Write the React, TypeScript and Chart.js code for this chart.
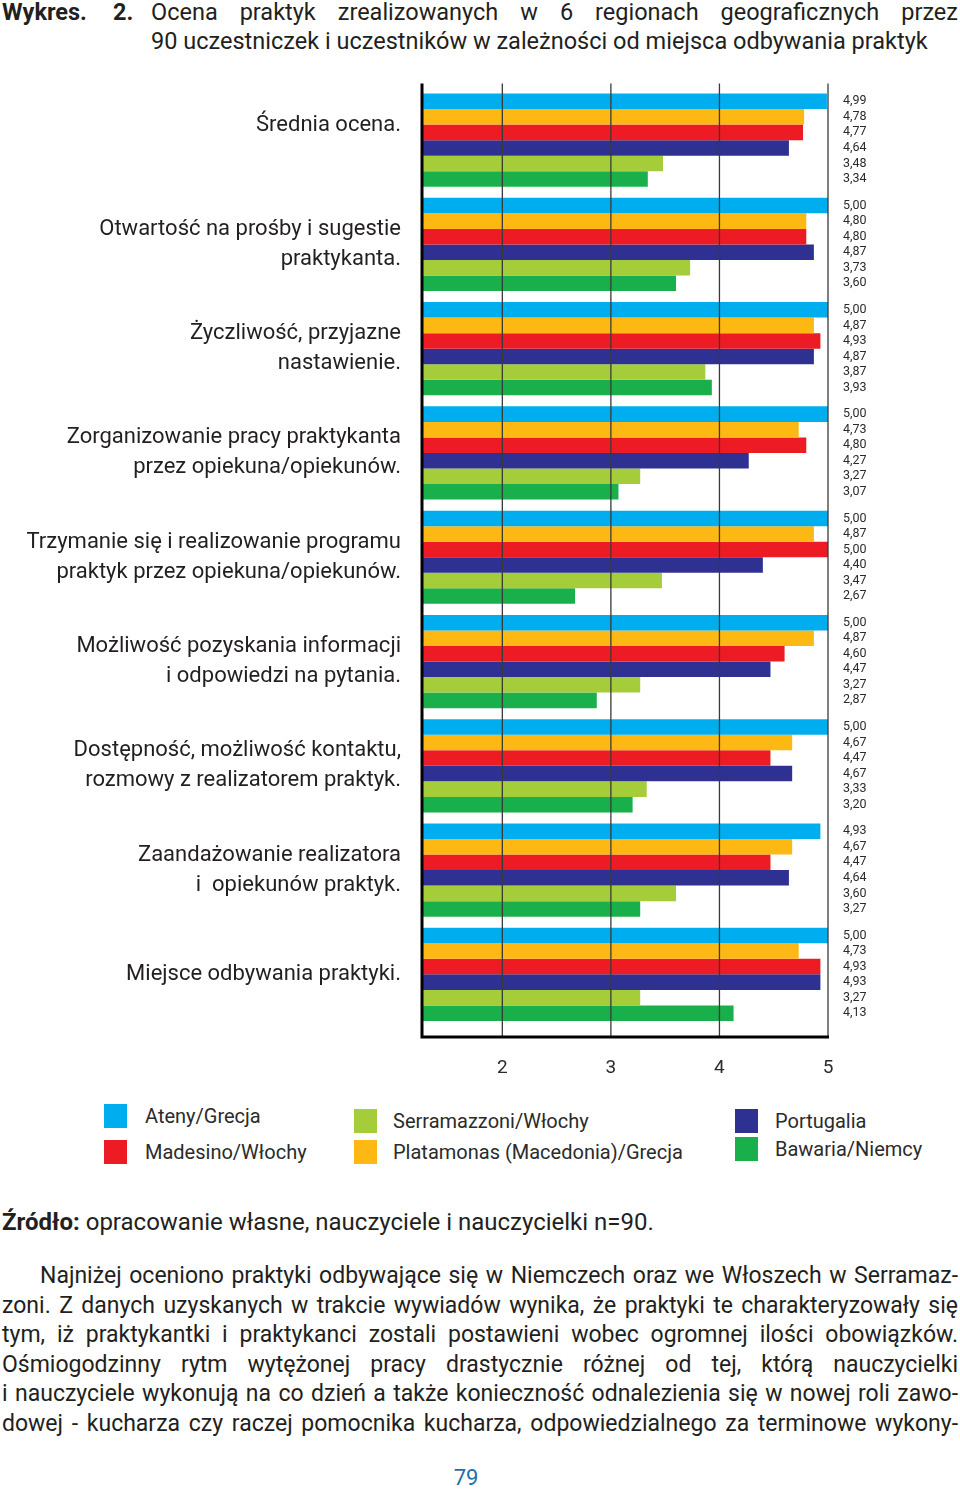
import React, { useEffect, useRef } from "react";
import { Chart, registerables } from "chart.js";

Chart.register(...registerables);

const FONT = "Roboto, 'Noto Sans', sans-serif";

// ---------- DATA ----------
const categories: string[][] = [
  ["Średnia ocena.", ""],
  ["Otwartość na prośby i sugestie", "praktykanta."],
  ["Życzliwość, przyjazne", "nastawienie."],
  ["Zorganizowanie pracy praktykanta", "przez opiekuna/opiekunów."],
  ["Trzymanie się i realizowanie programu", "praktyk przez opiekuna/opiekunów."],
  ["Możliwość pozyskania informacji", "i odpowiedzi na pytania."],
  ["Dostępność, możliwość kontaktu,", "rozmowy z realizatorem praktyk."],
  ["Zaandażowanie realizatora", "i  opiekunów praktyk."],
  ["Miejsce odbywania praktyki."],
];

const seriesNames = [
  "Ateny/Grecja",
  "Platamonas (Macedonia)/Grecja",
  "Madesino/Włochy",
  "Portugalia",
  "Serramazzoni/Włochy",
  "Bawaria/Niemcy",
];

const ateny = [4.99, 5.0, 5.0, 5.0, 5.0, 5.0, 5.0, 4.93, 5.0];
const platamonas = [4.78, 4.8, 4.87, 4.73, 4.87, 4.87, 4.67, 4.67, 4.73];
const madesino = [4.77, 4.8, 4.93, 4.8, 5.0, 4.6, 4.47, 4.47, 4.93];
const portugalia = [4.64, 4.87, 4.87, 4.27, 4.4, 4.47, 4.67, 4.64, 4.93];
const serramazzoni = [3.48, 3.73, 3.87, 3.27, 3.47, 3.27, 3.33, 3.6, 3.27];
const bawaria = [3.34, 3.6, 3.93, 3.07, 2.67, 2.87, 3.2, 3.27, 4.13];

const seriesValues = [ateny, platamonas, madesino, portugalia, serramazzoni, bawaria];

const xTickValues = [2, 3, 4, 5];
const xMin = 1.26;
const xMax = 5;

// legend columns (indices into seriesNames)
const legendColumns = [
  [0, 2],
  [4, 1],
  [3, 5],
];

// ---------- STYLE ----------
const seriesColors = ["#00AEEF", "#FDB813", "#ED1C24", "#2E3192", "#A5CD39", "#19B04B"];

const fmt = (v: number) => v.toFixed(2).replace(".", ",");

const CANVAS_TOP = 51.5;
const CANVAS_H = 1038.5;

const decorPlugin = {
  id: "decor",
  afterDatasetsDraw(chart: any) {
    const { ctx, chartArea, scales } = chart;
    const xs = scales.x;
    const top = chartArea.top - 4.5;
    const bottom = chartArea.bottom + 10.5;
    ctx.save();
    // vertical grid lines (over bars)
    ctx.strokeStyle = "#3a3a3a";
    ctx.lineWidth = 1.3;
    xTickValues.forEach((v) => {
      const px = xs.getPixelForValue(v);
      ctx.beginPath();
      ctx.moveTo(px, top);
      ctx.lineTo(px, bottom);
      ctx.stroke();
    });
    // axes
    ctx.strokeStyle = "#000";
    ctx.lineWidth = 3;
    ctx.beginPath();
    ctx.moveTo(chartArea.left, top);
    ctx.lineTo(chartArea.left, bottom);
    ctx.lineTo(xs.getPixelForValue(xMax) + 1, bottom);
    ctx.stroke();
    // value labels
    ctx.fillStyle = "#2b2b2b";
    ctx.font = `12.5px ${FONT}`;
    ctx.textAlign = "left";
    ctx.textBaseline = "middle";
    chart.data.datasets.forEach((ds: any, i: number) => {
      const meta = chart.getDatasetMeta(i);
      meta.data.forEach((bar: any, j: number) => {
        ctx.fillText(fmt(ds.data[j]), chartArea.right + 15, bar.y);
      });
    });
    ctx.restore();
  },
};

function BarChart() {
  const ref = useRef<HTMLCanvasElement | null>(null);
  useEffect(() => {
    if (!ref.current) return;
    const chart = new Chart(ref.current, {
      type: "bar",
      data: {
        labels: categories as any,
        datasets: seriesValues.map((vals, i) => ({
          label: seriesNames[i],
          data: vals,
          backgroundColor: seriesColors[i],
          borderWidth: 0,
          barPercentage: 1,
          categoryPercentage: 0.894,
        })),
      },
      options: {
        indexAxis: "y",
        responsive: false,
        animation: false,
        events: [],
        layout: { padding: { top: 87.5 - CANVAS_TOP, right: 132, left: 0, bottom: 0 } },
        plugins: { legend: { display: false }, tooltip: { enabled: false } },
        scales: {
          x: {
            type: "linear",
            position: "bottom",
            min: xMin,
            max: xMax,
            grid: { display: false, drawTicks: false },
            border: { display: false },
            afterBuildTicks: (scale: any) => {
              scale.ticks = xTickValues.map((v) => ({ value: v }));
            },
            afterFit: (scale: any) => {
              scale.height = CANVAS_TOP + CANVAS_H - 1026.5;
            },
            ticks: {
              padding: 30,
              color: "#2b2b2b",
              font: { family: FONT, size: 19 },
              callback: (v: any) => String(v),
            },
          },
          y: {
            type: "category",
            grid: { display: false, drawTicks: false },
            border: { display: false },
            afterFit: (scale: any) => {
              scale.width = 422;
            },
            ticks: {
              autoSkip: false,
              padding: 21,
              color: "#231f20",
              font: { family: FONT, size: 22, lineHeight: "30px" as any },
            },
          },
        },
      },
      plugins: [decorPlugin],
    });
    return () => chart.destroy();
  }, []);
  return (
    <canvas
      ref={ref}
      width={960}
      height={CANVAS_H}
      style={{ position: "absolute", left: 0, top: CANVAS_TOP, width: 960, height: CANVAS_H, display: "block" }}
    />
  );
}

const legendPos = [
  { sq: 104, tx: 145, ys: [1116, 1152] },
  { sq: 354, tx: 393, ys: [1121, 1152] },
  { sq: 735, tx: 775, ys: [1121, 1149] },
];

const paragraphLines = [
  "Najniżej oceniono praktyki odbywające się w Niemczech oraz we Włoszech w Serramaz-",
  "zoni. Z danych uzyskanych w trakcie wywiadów wynika, że praktyki te charakteryzowały się",
  "tym, iż praktykantki i praktykanci zostali postawieni wobec ogromnej ilości obowiązków.",
  "Ośmiogodzinny rytm wytężonej pracy drastycznie różnej od tej, którą nauczycielki",
  "i nauczyciele wykonują na co dzień a także konieczność odnalezienia się w nowej roli zawo-",
  "dowej - kucharza czy raczej pomocnika kucharza, odpowiedzialnego za terminowe wykony-",
];

export default function App() {
  useEffect(() => {
    document.body.style.margin = "0";
  }, []);
  const textColor = "#231f20";
  return (
    <div
      style={{
        position: "relative",
        width: 960,
        height: 1493,
        background: "#fff",
        fontFamily: FONT,
        color: textColor,
        overflow: "hidden",
      }}
    >
      {/* Title */}
      <div style={{ position: "absolute", left: 2, top: -2, width: 956, fontSize: 23.5, lineHeight: "29px" }}>
        <div style={{ display: "flex" }}>
          <span style={{ width: 149, flex: "none", fontWeight: 700, whiteSpace: "pre" }}>
            <span style={{ display: "inline-block", width: 111 }}>Wykres.</span>2.
          </span>
          <span style={{ flex: 1, textAlign: "justify", textAlignLast: "justify" as any }}>
            Ocena praktyk zrealizowanych w 6 regionach geograficznych przez
          </span>
        </div>
        <div style={{ paddingLeft: 149 }}>
          90 uczestniczek i uczestników w zależności od miejsca odbywania praktyk
        </div>
      </div>

      <BarChart />

      {/* Legend */}
      {legendColumns.map((col, ci) =>
        col.map((si, ri) => {
          const p = legendPos[ci];
          const cy = p.ys[ri];
          return (
            <React.Fragment key={`${ci}-${ri}`}>
              <div
                style={{
                  position: "absolute",
                  left: p.sq,
                  top: cy - 12,
                  width: 23,
                  height: 24,
                  background: seriesColors[si],
                }}
              />
              <div
                style={{
                  position: "absolute",
                  left: p.tx,
                  top: cy - 14,
                  height: 28,
                  lineHeight: "28px",
                  fontSize: 20,
                  color: "#2b2b2b",
                  whiteSpace: "nowrap",
                }}
              >
                {seriesNames[si]}
              </div>
            </React.Fragment>
          );
        })
      )}

      {/* Source */}
      <div style={{ position: "absolute", left: 2, top: 1207, fontSize: 24, lineHeight: "30px", whiteSpace: "nowrap" }}>
        <b>Źródło:</b> opracowanie własne, nauczyciele i nauczycielki n=90.
      </div>

      {/* Paragraph */}
      <div style={{ position: "absolute", left: 2, top: 1261, width: 956, fontSize: 23, lineHeight: "29.6px" }}>
        {paragraphLines.map((l, i) => (
          <div
            key={i}
            style={{
              textAlign: "justify",
              textAlignLast: "justify" as any,
              paddingLeft: i === 0 ? 38 : 0,
            }}
          >
            {l}
          </div>
        ))}
      </div>

      {/* Page number */}
      <div
        style={{
          position: "absolute",
          left: 0,
          width: 932,
          top: 1463,
          textAlign: "center",
          fontSize: 22,
          lineHeight: "30px",
          color: "#1f6fa8",
        }}
      >
        79
      </div>
    </div>
  );
}
